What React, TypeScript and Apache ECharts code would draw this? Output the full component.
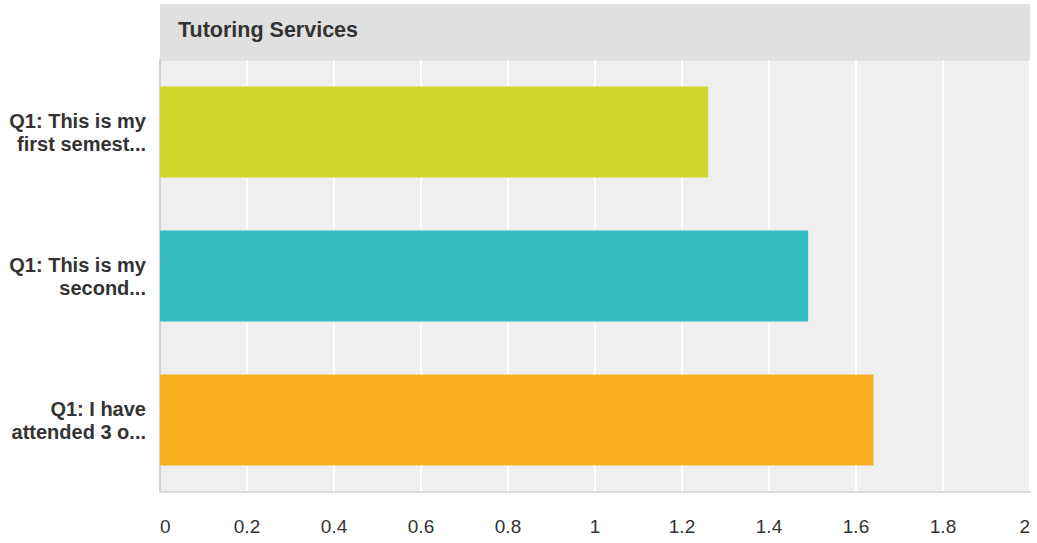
import React, { useEffect, useRef } from "react";
import * as echarts from "echarts";

const title = "Tutoring Services";
const categories = [
  "Q1: This is my\nfirst semest...",
  "Q1: This is my\nsecond...",
  "Q1: I have\nattended 3 o...",
];
const values = [1.26, 1.49, 1.64];
const barColors = ["#d0d62a", "#34bdbf", "#f7ae1f"];
const axisMin = 0;
const axisMax = 2;
const axisStep = 0.2;

const FONT = '"Liberation Sans", Arial, Helvetica, sans-serif';

export default function App() {
  const ref = useRef<HTMLDivElement>(null);
  useEffect(() => {
    if (!ref.current) return;
    const chart = echarts.init(ref.current, undefined, { renderer: "svg" });
    chart.setOption({
      animation: false,
      backgroundColor: "#ffffff",
      textStyle: { fontFamily: FONT },
      grid: {
        left: 160,
        right: 7,
        top: 60,
        bottom: 51,
        show: true,
        backgroundColor: "#efefef",
        borderWidth: 0,
      },
      graphic: [
        {
          type: "rect",
          shape: { x: 160, y: 4, width: 870, height: 57 },
          style: { fill: "#e0e0e0" },
          z: 0,
        },
        {
          type: "text",
          x: 178,
          y: 30,
          style: {
            text: title,
            fontFamily: FONT,
            fontSize: 21.5,
            fontWeight: "bold",
            fill: "#333333",
            verticalAlign: "middle",
          },
          z: 1,
        },
      ],
      xAxis: {
        type: "value",
        min: axisMin,
        max: axisMax,
        interval: axisStep,
        axisLine: { show: true, onZero: false, lineStyle: { color: "#dadada", width: 2 } },
        axisTick: { show: false },
        splitLine: { show: true, lineStyle: { color: "#ffffff", width: 2 } },
        axisLabel: {
          color: "#333333",
          fontSize: 19,
          fontFamily: FONT,
          margin: 25,
          alignMinLabel: "left",
          alignMaxLabel: "right",
          formatter: (v: number) => String(Math.round(v * 10) / 10),
        },
      },
      yAxis: {
        type: "category",
        inverse: true,
        data: categories,
        axisLine: { show: true, lineStyle: { color: "#d0d0d0", width: 2 } },
        axisTick: { show: false },
        axisLabel: {
          color: "#333333",
          fontSize: 20,
          fontWeight: "bold",
          fontFamily: FONT,
          lineHeight: 23,
          margin: 14,
          align: "right",
          padding: [0, 0, 3, 0],
        },
      },
      series: [
        {
          type: "bar",
          barWidth: 91,
          data: values.map((v, i) => ({ value: v, itemStyle: { color: barColors[i] } })),
        },
      ],
    });
    return () => chart.dispose();
  }, []);
  return (
    <div
      ref={ref}
      style={{ position: "fixed", left: 0, top: 0, width: 1037, height: 543 }}
    />
  );
}
